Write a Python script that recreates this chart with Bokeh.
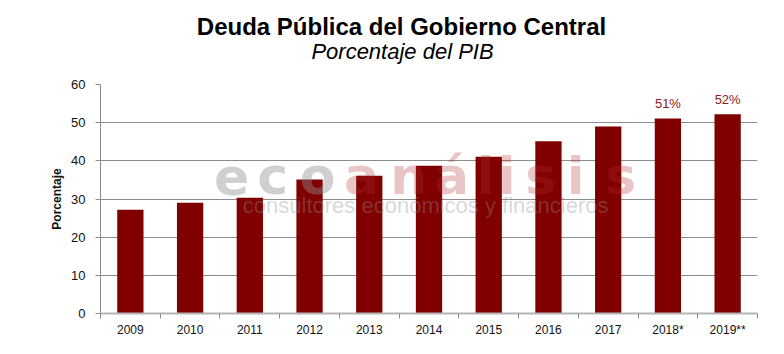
import numpy as np
from bokeh.plotting import figure
from bokeh.layouts import column
from bokeh.models import (ColumnDataSource, FixedTicker, CustomJSTickFormatter, Range1d)
from bokeh.core.properties import value
from bokeh.embed import file_html
from bokeh.resources import INLINE

# ---- data ----
years = ["2009", "2010", "2011", "2012", "2013", "2014", "2015", "2016", "2017", "2018*", "2019**"]
debt_pct = [27.2, 29.0, 30.3, 35.1, 36.1, 38.7, 41.1, 45.1, 49.0, 51.1, 52.2]
bar_labels = ["", "", "", "", "", "", "", "", "", "51%", "52%"]
y_ticks = [0, 10, 20, 30, 40, 50, 60]

title_text = "Deuda Pública del Gobierno Central"
subtitle_text = "Porcentaje del PIB"
y_title = "Porcentaje"
wm_main = "ecoanálisis"
wm_sub = "consultores económicos y financieros"

FONT = "Liberation Sans"
BAR = "#800000"
HEAD_H = 74
FRAME_L, FRAME_R = 100, 757

# ---- header (title + subtitle); its frame is aligned with the chart frame ----
head = figure(width=784, height=HEAD_H, output_backend="svg", toolbar_location=None,
              x_range=Range1d(FRAME_L, FRAME_R), y_range=Range1d(HEAD_H, 0),
              x_axis_type=None, y_axis_type=None, min_border=0, title_location=None)
head.outline_line_color = None
head.grid.visible = False
head.text(x=[401], y=[26], text=[title_text], text_align="center",
          text_baseline="alphabetic", text_font=value(FONT), text_font_size="24px",
          text_font_style="bold", text_color="black")
head.text(x=[402], y=[51], text=[subtitle_text], text_align="center",
          text_baseline="alphabetic", text_font=value(FONT), text_font_size="22px",
          text_font_style="italic", text_color="black")

# ---- main chart ----
n = len(years)
centers = list(np.arange(n) + 0.5)
bounds = list(np.arange(n + 1).astype(float))

src = ColumnDataSource(dict(x=centers, top=debt_pct, lab=bar_labels))

p = figure(width=784, height=354 - HEAD_H, output_backend="svg", toolbar_location=None,
           x_range=Range1d(0, n), y_range=Range1d(0, 60),
           min_border_left=FRAME_L, min_border_right=784 - FRAME_R,
           min_border_top=84 - HEAD_H, min_border_bottom=41, title_location=None)
p.outline_line_color = None
p.background_fill_color = "white"
p.border_fill_color = "white"

p.vbar(x="x", top="top", width=0.44, source=src, color=BAR, line_color=None)

p.text(x="x", y="top", text="lab", source=src, text_align="center",
       text_baseline="bottom", y_offset=-7, text_font=value(FONT),
       text_font_size="13px", text_color="#8b2020")

# grid
p.xgrid.visible = False
p.ygrid.grid_line_color = "#8c8c8c"
p.ygrid.grid_line_width = 1
p.ygrid.ticker = FixedTicker(ticks=y_ticks)

# y axis
ya = p.yaxis[0]
ya.ticker = FixedTicker(ticks=y_ticks)
ya.axis_line_color = "#8c8c8c"
ya.major_tick_line_color = "#8c8c8c"
ya.major_tick_out = 5
ya.major_tick_in = 0
ya.minor_tick_line_color = None
ya.major_label_standoff = 10
ya.major_label_text_font = FONT
ya.major_label_text_font_size = "13px"
ya.major_label_text_color = "#111111"
ya.axis_label = y_title
ya.axis_label_text_font = FONT
ya.axis_label_text_font_size = "12px"
ya.axis_label_text_font_style = "bold"
ya.axis_label_text_color = "#111111"
ya.axis_label_standoff = 4

# x axis: labels at centres, tick marks at category boundaries
xa = p.xaxis[0]
xa.ticker = FixedTicker(ticks=centers, minor_ticks=bounds)
xa.formatter = CustomJSTickFormatter(args=dict(labels=years),
                                     code="const i = Math.floor(tick); return labels[i] || '';")
xa.axis_line_color = "#b4b4b4"
xa.axis_line_width = 2
xa.major_tick_line_color = None
xa.major_tick_out = 0
xa.major_tick_in = 0
xa.minor_tick_line_color = "#8c8c8c"
xa.minor_tick_out = 5
xa.minor_tick_in = 0
xa.major_label_standoff = 4
xa.major_label_text_font = FONT
xa.major_label_text_font_size = "12px"
xa.major_label_text_color = "#111111"

# watermark (decoration), placed via pixel -> data helpers
def px2x(px):
    return (px - FRAME_L) / 59.7

def py2y(py):
    return (313 - py) / 3.82

wm_px = [231, 272, 317, 361, 408, 451, 485, 506, 540, 575, 620]
chars = list(wm_main)
grey_n = 3
p.text(x=[px2x(v) for v in wm_px[:grey_n]], y=[py2y(175)] * grey_n, text=chars[:grey_n],
       text_align="center", text_baseline="alphabetic", text_font=value("DejaVu Sans"),
       text_font_size="52px", text_font_style="bold", text_color="#909090", text_alpha=0.42)
p.text(x=[px2x(v) for v in wm_px[grey_n:]], y=[py2y(175)] * (len(chars) - grey_n),
       text=chars[grey_n:], text_align="center", text_baseline="alphabetic",
       text_font=value("DejaVu Sans"), text_font_size="52px", text_font_style="bold",
       text_color="#b03030", text_alpha=0.28)
p.text(x=[px2x(425)], y=[py2y(205)], text=[wm_sub], text_align="center",
       text_baseline="alphabetic", text_font=value(FONT), text_font_size="22px",
       text_color="#909090", text_alpha=0.35)

layout = column(head, p, spacing=0)
open("out.html", "w").write(file_html(layout, INLINE))
